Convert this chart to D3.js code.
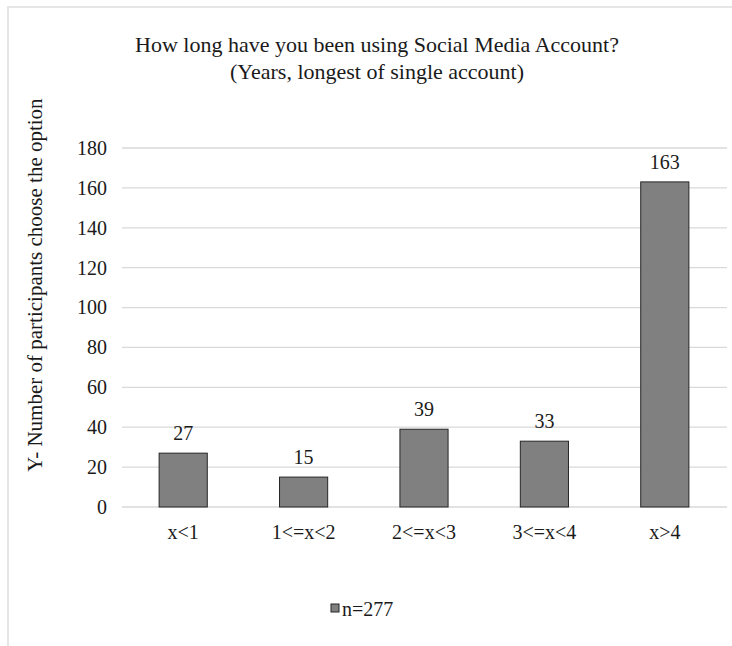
<!DOCTYPE html>
<html>
<head>
<meta charset="utf-8">
<script src="https://cdn.jsdelivr.net/npm/d3@7"></script>
<style>
  body { margin: 0; background: #fff; }
  svg text { font-family: "Liberation Serif", "Times New Roman", serif; fill: #1a1a1a; }
</style>
</head>
<body>
<script>
const width = 732;
const height = 646;
const serif = "'Liberation Serif', 'Times New Roman', serif";

// data
const categories = ["x<1", "1<=x<2", "2<=x<3", "3<=x<4", "x>4"];
const counts = [27, 15, 39, 33, 163];
const yTicks = [0, 20, 40, 60, 80, 100, 120, 140, 160, 180];
const seriesName = "n=277";

const barFill = "#808080";
const barStroke = "#262626";
const gridColor = "#d9d9d9";

const margin = { top: 148, right: 7, bottom: 139, left: 123 };

const svg = d3.select("body")
    .append("svg")
    .attr("width", width)
    .attr("height", height);

// outer frame (only top and left edge show in the picture)
svg.append("path")
    .attr("d", "M8," + height + " V7 H" + width)
    .attr("fill", "none")
    .attr("stroke", "#e6e6e6")
    .attr("stroke-width", 2);

const xScale = d3.scaleBand()
    .domain(categories)
    .range([margin.left, width - margin.right])
    .paddingInner(0.6)
    .paddingOuter(0.3);

const yScale = d3.scaleLinear()
    .domain([0, 180])
    .range([height - margin.bottom, margin.top]);

// gridlines
svg.append("g")
    .selectAll("line")
    .data(yTicks)
    .enter()
    .append("line")
    .attr("x1", margin.left - 1)
    .attr("x2", width - 5)
    .attr("y1", d => yScale(d))
    .attr("y2", d => yScale(d))
    .attr("stroke", gridColor)
    .attr("stroke-width", 1.3);

// y axis labels
const yAxis = d3.axisLeft(yScale)
    .tickValues(yTicks)
    .tickSize(0)
    .tickPadding(16);

const yG = svg.append("g")
    .attr("transform", "translate(" + margin.left + ",0)")
    .call(yAxis);
yG.select(".domain").remove();
yG.selectAll("text")
    .attr("font-size", 20)
    .attr("font-family", serif)
    .attr("fill", "#1a1a1a");

// x axis labels
const xAxis = d3.axisBottom(xScale).tickSize(0).tickPadding(18);
const xG = svg.append("g")
    .attr("transform", "translate(0," + yScale(0) + ")")
    .call(xAxis);
xG.select(".domain").remove();
xG.selectAll("text")
    .attr("font-size", 20)
    .attr("font-family", serif)
    .attr("fill", "#1a1a1a");

// bars
svg.append("g")
    .selectAll("rect")
    .data(counts)
    .enter()
    .append("rect")
    .attr("x", (d, i) => xScale(categories[i]))
    .attr("y", d => yScale(d))
    .attr("width", xScale.bandwidth())
    .attr("height", d => yScale(0) - yScale(d))
    .attr("fill", barFill)
    .attr("stroke", barStroke)
    .attr("stroke-width", 1);

// value labels
svg.append("g")
    .selectAll("text")
    .data(counts)
    .enter()
    .append("text")
    .attr("x", (d, i) => xScale(categories[i]) + xScale.bandwidth() / 2)
    .attr("y", d => yScale(d) - 13)
    .attr("text-anchor", "middle")
    .attr("font-size", 20)
    .attr("font-family", serif)
    .text(d => d);

// title
const title = svg.append("text")
    .attr("text-anchor", "middle")
    .attr("font-family", serif)
    .attr("font-size", 22);
title.append("tspan")
    .attr("x", 377)
    .attr("y", 52)
    .text("How long have you been using Social Media Account?");
title.append("tspan")
    .attr("x", 377)
    .attr("y", 79)
    .text("(Years, longest of single account)");

// y axis title
svg.append("text")
    .attr("transform", "translate(42,285) rotate(-90)")
    .attr("text-anchor", "middle")
    .attr("font-family", serif)
    .attr("font-size", 21)
    .text("Y- Number of participants choose the option");

// legend
const legend = svg.append("g")
    .attr("transform", "translate(331,610)");
legend.append("rect")
    .attr("x", 0)
    .attr("y", -6)
    .attr("width", 8)
    .attr("height", 8)
    .attr("fill", barFill)
    .attr("stroke", barStroke)
    .attr("stroke-width", 1);
legend.append("text")
    .attr("x", 11)
    .attr("y", 6)
    .attr("font-size", 20)
    .attr("font-family", serif)
    .text(seriesName);
</script>
</body>
</html>
